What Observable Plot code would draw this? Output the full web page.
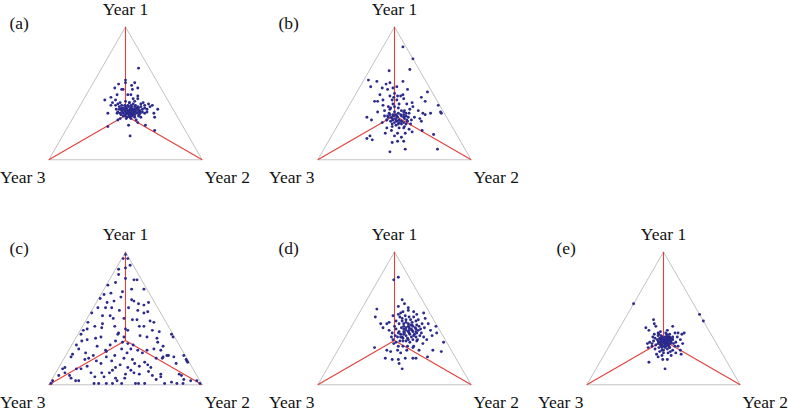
<!DOCTYPE html>
<html>
<head>
<meta charset="utf-8">
<script src="https://cdn.jsdelivr.net/npm/d3@7"></script>
<script src="https://cdn.jsdelivr.net/npm/@observablehq/plot@0.6"></script>
<style>
  html, body { margin: 0; padding: 0; background: #ffffff; }
  #chart { width: 788px; height: 412px; }
</style>
</head>
<body>
<div id="chart"></div>
<script>
// ---- Data: shares (%) of [Year 1, Year 2, Year 3] for each point ----
const vertexLabels = ["Year 1", "Year 2", "Year 3"];
const panelNames = ["(a)", "(b)", "(c)", "(d)", "(e)"];

const panelA = [
  [69,24,7],[60,20,20],[58,21,21],[57,17,26],[58,27,15],[56,26,18],[54,16,30],[53,21,26],[53,22,25],[53,28,19],
  [54,31,15],[45,14,41],[47,17,36],[49,20,31],[49,27,24],[49,29,22],[48,34,18],[41,20,39],[43,20,37],[45,21,34],
  [43,25,32],[44,28,28],[43,31,26],[46,32,22],[44,34,22],[46,35,19],[42,39,19],[43,40,17],[41,42,17],[42,44,14],
  [40,46,14],[41,47,12],[35,21,44],[35,51,14],[38,52,10],[32,53,15],[25,26,49],[30,30,40],[31,31,38],[26,39,35],
  [30,42,28],[28,44,28],[26,50,24],[22,58,20],[18,44,38],[38,25,37],[36,27,37],[40,26,34],[34,30,36],[37,29,34],
  [41,27,32],[35,31,34],[39,29,32],[33,33,34],[37,31,32],[40,30,30],[35,33,32],[38,32,30],[32,35,33],[36,34,30],
  [40,32,28],[34,36,30],[38,34,28],[35,36,29],[41,33,26],[33,38,29],[38,36,26],[36,37,27],[40,36,24],[34,39,27],
  [37,38,25],[41,36,23],[35,40,25],[39,38,23],[33,42,25],[37,40,23],[40,40,20],[35,42,23],[38,42,20],[36,43,21],
  [39,43,18],[35,45,20],[38,45,17],[36,46,18],[38,27,35],[39,28,33],[36,30,34],[34,33,33],[41,31,28],[37,34,29],
  [32,37,31],[36,36,28],[42,34,24],[32,40,28],[38,39,23],[35,27,38],[33,32,35],[31,35,34],[31,38,31],[32,44,24],
  [41,23,36],[42,24,34],[41,29,30],[43,31,26],[36,33,31],[34,35,31],[38,30,32],[34,38,28],[38,37,25],[34,42,24],
  [37,33,30],[39,34,27],[36,35,29],[35,38,27],[37,36,27],[39,31,30],[36,32,32],[38,35,27],[35,34,31],[37,37,26],
  [40,34,26],[34,37,29],[36,39,25],[39,39,22],[37,41,22],[35,29,36],[38,28,34],[33,36,31],[36,41,23],[40,38,22]
];

const panelB = [
  [85,13,2],[76,24,0],[67,13,20],[68,26,6],[60,3,37],[59,9,32],[58,18,24],[59,26,15],[57,16,27],[55,7,38],
  [54,15,31],[53,19,28],[54,22,24],[55,24,21],[53,32,15],[51,46,3],[49,16,35],[48,23,29],[50,25,25],[48,30,22],
  [49,31,20],[47,44,9],[44,48,8],[44,15,41],[44,17,39],[45,20,35],[45,26,29],[45,29,26],[46,33,21],[41,22,37],
  [40,26,34],[42,28,30],[42,37,21],[43,40,17],[40,42,18],[41,58,1],[36,21,43],[37,25,38],[38,28,34],[39,33,28],
  [37,38,25],[38,41,21],[37,47,16],[35,51,14],[34,53,13],[35,56,9],[36,62,2],[35,63,2],[32,16,52],[33,27,40],
  [33,29,38],[34,32,34],[34,37,29],[33,41,26],[31,51,18],[29,53,18],[30,30,40],[29,33,38],[30,36,34],[27,39,34],
  [29,40,31],[29,44,27],[27,47,26],[28,28,44],[30,20,50],[24,33,43],[25,36,39],[24,41,35],[25,44,31],[21,51,28],
  [20,47,33],[22,57,21],[19,66,15],[18,25,57],[16,24,60],[15,28,57],[20,34,46],[20,42,38],[18,41,41],[17,46,37],
  [14,45,41],[14,49,37],[13,42,45],[6,44,50],[8,53,39],[8,74,18],[35,29,36],[32,32,36],[36,32,32],[33,35,32],
  [30,38,32],[37,36,27],[32,40,28],[35,40,25],[32,43,25],[35,42,23],[30,30,40],[28,36,36],[27,41,32],[27,44,29],
  [34,34,32],[39,28,33],[40,30,30],[42,32,26],[47,26,27],[48,28,24],[24,44,32],[22,37,41],[23,48,29],[32,47,21],
  [31,35,34],[33,38,29],[29,37,34],[31,41,28],[34,30,36],[28,39,33],[30,34,36],[32,36,32],[26,38,36],[30,43,27],
  [33,33,34],[35,35,30],[28,42,30],[31,33,36],[29,40,31],[34,39,27],[27,35,38],[32,30,38],[36,38,26],[30,46,24]
];

const panelC = [
  [98,1,1],[95,1,4],[95,4,1],[90,8,2],[87,2,11],[83,4,13],[79,16,5],[79,18,3],[77,5,18],[75,1,24],
  [72,26,2],[70,13,17],[68,2,30],[69,6,25],[65,1,34],[63,11,26],[64,22,14],[63,24,13],[62,34,4],[62,7,31],
  [58,8,34],[58,12,30],[58,23,19],[60,32,8],[56,30,14],[54,35,11],[55,37,8],[54,1,45],[58,3,39],[52,9,39],
  [52,14,34],[49,30,21],[49,33,18],[47,45,8],[47,2,51],[44,8,48],[44,21,35],[42,29,29],[41,31,28],[44,37,19],
  [37,41,22],[36,46,18],[41,47,12],[35,53,12],[32,55,13],[29,60,11],[38,61,1],[36,63,1],[38,2,60],[41,2,57],
  [42,4,54],[38,26,36],[39,26,35],[36,31,33],[43,13,44],[36,16,48],[33,27,40],[32,32,36],[30,40,30],[21,4,75],
  [23,4,73],[12,12,76],[12,15,73],[19,14,67],[20,16,64],[22,18,60],[26,24,50],[25,25,50],[21,27,52],[18,32,50],
  [22,32,46],[27,34,39],[24,39,37],[27,40,33],[19,45,36],[26,45,29],[24,49,27],[26,51,23],[15,57,28],[13,60,27],
  [20,60,20],[21,64,15],[22,66,12],[22,67,11],[21,71,8],[16,75,9],[22,77,1],[19,80,1],[17,82,1],[18,81,1],
  [8,81,11],[7,83,10],[3,91,6],[3,95,2],[1,98,1],[1,1,98],[3,1,96],[7,3,90],[12,3,85],[13,4,83],
  [9,6,85],[7,10,83],[3,16,81],[3,18,79],[9,23,68],[6,27,67],[1,29,70],[1,32,67],[1,37,62],[1,41,58],
  [5,41,54],[3,43,54],[8,46,46],[5,47,48],[11,48,41],[9,51,40],[8,55,37],[17,54,29],[7,64,29],[4,68,28],
  [6,70,24],[8,69,23],[1,75,24],[2,79,19],[1,83,16],[1,87,12],[1,56,43],[1,58,41],[1,62,37],[1,47,52],
  [9,30,61],[6,33,61],[9,35,56],[15,39,46],[13,37,50],[13,45,42],[27,6,67],[33,5,62],[30,3,67],[35,13,52],
  [29,17,54],[27,55,18],[20,64,16],[30,25,45],[20,39,41],[16,48,36],[14,18,68],[16,26,58],[44,40,16],[50,17,33],
  [88,6,6],[80,10,10],[72,18,10],[66,14,20],[61,28,11],[56,18,26],[50,24,26],[48,42,10],[46,12,42],[40,52,8],
  [34,8,58],[31,36,33],[26,60,14],[24,12,64],[18,22,60],[14,52,34],[10,60,30],[11,36,53],[5,12,83],[4,86,10]
];

const panelD = [
  [79,10,11],[81,12,7],[64,23,13],[59,23,18],[61,26,13],[57,10,33],[58,30,12],[55,28,17],[56,31,13],[55,35,10],
  [52,23,25],[53,26,21],[54,27,19],[53,38,9],[54,42,4],[50,45,5],[51,12,37],[46,18,36],[46,22,32],[47,23,30],
  [43,21,36],[41,26,33],[39,29,32],[50,30,20],[46,49,5],[41,53,6],[44,55,1],[37,56,7],[39,58,3],[32,66,2],
  [34,54,12],[28,23,49],[26,32,42],[25,35,40],[26,39,35],[24,42,34],[26,45,29],[28,48,24],[26,53,21],[31,53,16],
  [26,62,12],[25,68,7],[20,34,46],[19,39,42],[19,43,38],[20,47,33],[20,52,28],[20,54,26],[21,61,18],[12,49,39],
  [16,45,39],[48,27,25],[46,30,24],[48,31,21],[44,34,22],[49,33,18],[46,36,18],[49,36,15],[44,40,16],[48,40,12],
  [45,42,13],[49,41,10],[42,46,12],[46,45,9],[42,30,28],[39,33,28],[43,33,24],[38,37,25],[41,37,22],[39,40,21],
  [41,41,18],[38,44,18],[40,44,16],[37,48,15],[39,48,13],[36,34,30],[33,37,30],[36,37,27],[33,41,26],[35,41,24],
  [32,44,24],[34,45,21],[33,48,19],[34,48,18],[37,32,31],[32,35,33],[29,38,33],[29,41,30],[29,44,27],[34,32,34],
  [31,34,35],[51,34,15],[52,31,17],[51,37,12],[41,45,14],[36,51,13],[43,48,9],[44,28,28],[36,30,34],[51,28,21],
  [29,48,23],[40,36,24],[43,38,19],[36,43,21],[36,36,28],[43,42,15],
  [45,38,17],[42,35,23],[40,39,21],[47,34,19],[44,37,19],[38,41,21],[42,43,15],[37,39,24],[35,38,27],[40,33,27],
  [45,39,16],[43,36,21],[39,37,24],[41,39,20],[47,38,15],[36,46,18],[38,35,27],[42,40,18],[34,42,24],[44,44,12],
  [40,42,18],[37,44,19],[33,39,28],[46,33,21],[39,45,16]
];

const panelE = [
  [61,0,39],[53,47,0],[48,52,0],[49,19,32],[46,21,33],[44,23,33],[43,17,40],[41,20,39],[44,34,22],[41,32,27],
  [39,38,23],[39,40,21],[38,43,19],[39,44,17],[36,41,23],[34,44,22],[31,47,22],[29,45,26],[29,43,28],[26,43,31],
  [24,46,30],[26,48,26],[23,50,27],[22,44,34],[24,41,35],[22,38,40],[25,35,40],[21,36,43],[23,34,43],[27,31,42],
  [29,28,43],[32,25,43],[31,24,45],[28,26,46],[36,25,39],[38,25,37],[39,27,34],[37,30,33],[17,32,51],[12,45,43],
  [19,40,41],[19,43,38],[28,40,32],[40,28,32],[35,30,35],[33,32,35],[36,31,33],[34,33,33],[38,33,29],[33,36,31],
  [36,36,28],[32,39,29],[31,35,34],[30,33,37],[29,37,34],[31,38,31],[32,31,37],[28,35,37],[39,32,29],[35,35,30],
  [38,35,27],[34,39,27],[34,29,37],[34,33,33],[32,35,33],[34,35,31],[38,28,34],[28,40,32],[26,37,37],[30,30,40],
  [33,27,40],[31,41,28],[27,39,34],[28,33,39],[35,31,34],[31,36,33],[34,37,29],[29,36,35],[32,32,36],[35,37,28],
  [28,37,35],[37,28,35],[36,38,26],[35,27,38],[31,27,42],[32,42,26],[25,42,33],[24,38,38],[26,36,38],[36,34,30],
  [33,34,33],[35,33,32],[32,37,31],[34,36,30],[31,33,36],[33,30,37],[36,33,31],[30,36,34],[33,38,29],[35,36,29],
  [32,34,34],[34,31,35],[31,39,30],[30,34,36],[33,35,32],[36,35,29],[29,34,37],[32,36,32],[34,34,32],[35,32,33],
  [31,37,32],[33,33,34],[30,38,32],[37,34,29],[32,33,35],[34,38,28],[31,31,38],[35,38,27],[33,37,30],[29,39,32]
];

// Shares of the triangle corners and of the centre
const vertexShares = [[1,0,0],[0,1,0],[0,0,1]];
const centreShare = [1,1,1];

// ---- Layout (grid cell of each panel) ----
const panelData = [panelA, panelB, panelC, panelD, panelE];
const panelGrid = [[0,0],[1,0],[0,1],[1,1],[2,1]]; // [column, row]

// Ternary projection: Year 3 bottom-left, Year 2 bottom-right, Year 1 top
const S3 = Math.sqrt(3) / 2;
function project(t) {
  const s = t[0] + t[1] + t[2];
  return {X: (t[1] + t[0] / 2) / s, Y: (t[0] * S3) / s};
}

const panels = panelNames.map((name, i) => ({name, col: panelGrid[i][0], row: panelGrid[i][1], data: panelData[i]}));

const dots = panels.flatMap(p => p.data.map(t => ({panel: p.name, col: p.col, row: p.row, ...project(t)})));
const outline = panels.flatMap(p => [0, 1, 2, 0].map(i => ({panel: p.name, col: p.col, row: p.row, ...project(vertexShares[i])})));
const spokes = panels.flatMap(p => vertexShares.map(v => {
  const c = project(centreShare), e = project(v);
  return {panel: p.name, col: p.col, row: p.row, x1: c.X, y1: c.Y, x2: e.X, y2: e.Y};
}));
const corners = panels.flatMap(p => vertexShares.map((v, i) => ({panel: p.name, col: p.col, row: p.row, label: vertexLabels[i], ...project(v)})));

const FONT = "'Liberation Serif', 'DejaVu Serif', serif";
const FS = 17.5;
const textOpts = {x: "X", y: "Y", text: "label", fx: "col", fy: "row", fontSize: FS, fontFamily: FONT, fill: "#111"};

const chart = Plot.plot({
  width: 788,
  height: 412,
  marginTop: 0, marginRight: 0, marginBottom: 0, marginLeft: 0,
  facet: {marginTop: 0, marginRight: 0, marginBottom: 0, marginLeft: 0},
  x: {domain: [-0.3149, 1.3149], axis: null},
  y: {domain: [-0.1806, 1.0385], axis: null},
  fx: {domain: [0, 1, 2], paddingInner: 0.0706, paddingOuter: 0, round: false, axis: null, label: null},
  fy: {domain: [0, 1], paddingInner: 0.1689, paddingOuter: 0, round: false, axis: null, label: null},
  style: {fontFamily: FONT, fontSize: FS + "px", background: "#ffffff", color: "#111"},
  marks: [
    Plot.line(outline, {x: "X", y: "Y", z: "panel", fx: "col", fy: "row", stroke: "#c2c2c2", strokeWidth: 1}),
    Plot.link(spokes, {x1: "x1", y1: "y1", x2: "x2", y2: "y2", fx: "col", fy: "row", stroke: "#e2403c", strokeWidth: 1.1}),
    Plot.dot(dots, {x: "X", y: "Y", fx: "col", fy: "row", r: 1.45, fill: "#2c2a8c"}),
    Plot.text(corners.filter(d => d.label === vertexLabels[0]), {...textOpts, dy: -17.5}),
    Plot.text(corners.filter(d => d.label === vertexLabels[1]), {...textOpts, dx: 25, dy: 18}),
    Plot.text(corners.filter(d => d.label === vertexLabels[2]), {...textOpts, dx: -26, dy: 18}),
    Plot.text(panels.filter(p => p.col < 2), {text: "name", fx: "col", fy: "row", frameAnchor: "top-left", textAnchor: "start", lineAnchor: "middle", dx: 9, dy: 23, fontSize: FS, fontFamily: FONT, fill: "#111"}),
    Plot.text(panels.filter(p => p.col === 2), {text: "name", fx: "col", fy: "row", frameAnchor: "top-left", textAnchor: "start", lineAnchor: "middle", dx: 18, dy: 23, fontSize: FS, fontFamily: FONT, fill: "#111"})
  ]
});

document.getElementById("chart").appendChild(chart);
</script>
</body>
</html>
